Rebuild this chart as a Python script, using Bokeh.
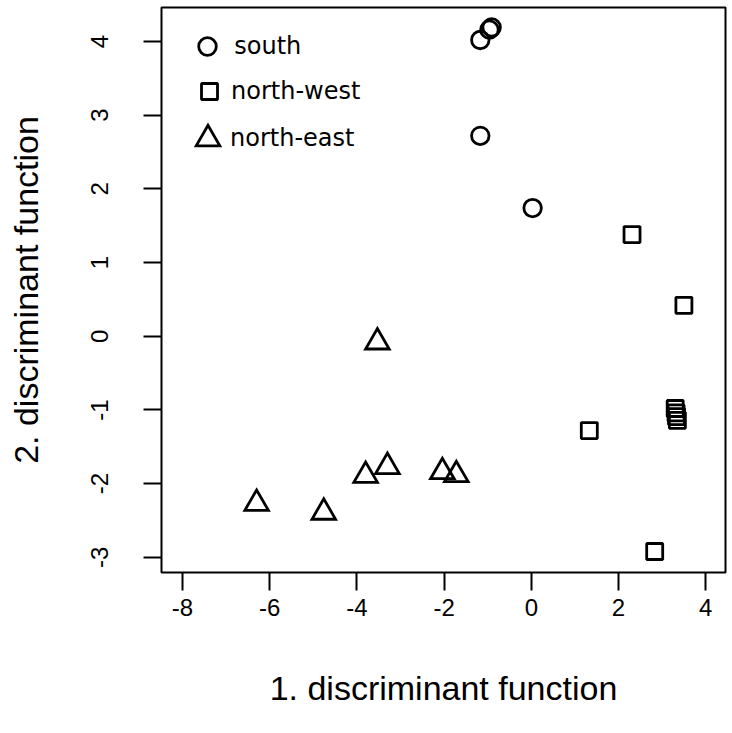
from bokeh.plotting import figure
from bokeh.models import Range1d, FixedTicker, Legend, LegendItem, CustomJSTickFormatter
from bokeh.embed import file_html
from bokeh.resources import INLINE

# --- data ---
south_x = [-1.17, -0.96, -0.91, -1.17, 0.03]
south_y = [4.02, 4.16, 4.19, 2.72, 1.74]

nw_x = [2.31, 3.50, 3.30, 3.32, 3.33, 3.35, 1.33, 2.83]
nw_y = [1.38, 0.42, -0.98, -1.04, -1.09, -1.14, -1.28, -2.92]

ne_x = [-3.53, -3.30, -3.80, -2.04, -1.72, -6.30, -4.76]
ne_y = [-0.08, -1.77, -1.89, -1.84, -1.88, -2.27, -2.39]

x_ticks = [-8, -6, -4, -2, 0, 2, 4]
y_ticks = [-3, -2, -1, 0, 1, 2, 3, 4]

group_labels = ["south", "north-west", "north-east"]
x_title = "1. discriminant function"
y_title = "2. discriminant function"

p = figure(width=732, height=733, output_backend="svg", toolbar_location=None,
           x_range=Range1d(-8.482, 4.454), y_range=Range1d(-3.205, 4.461),
           min_border_left=161, min_border_right=7, min_border_top=7,
           min_border_bottom=161)
p.grid.visible = False
p.background_fill_color = "white"
p.border_fill_color = "white"
p.outline_line_color = "black"
p.outline_line_width = 2

lw = 2.8
r1 = p.scatter(south_x, south_y, marker="circle", size=17.5, fill_color=None,
               line_color="black", line_width=lw)
r2 = p.scatter(nw_x, nw_y, marker="square", size=16, fill_color=None,
               line_color="black", line_width=lw)
r3 = p.scatter(ne_x, ne_y, marker="triangle", size=23.6, fill_color=None,
               line_color="black", line_width=lw, line_join="miter")
# invisible empty renderer: carries the "north-east" legend text only
r3_text = p.scatter(x=[], y=[], marker="triangle", fill_alpha=0, line_alpha=0)

fmt = CustomJSTickFormatter(code="return String(tick);")
for ax, ticks in ((p.xaxis[0], x_ticks), (p.yaxis[0], y_ticks)):
    ax.ticker = FixedTicker(ticks=ticks)
    ax.formatter = fmt
    ax.axis_line_color = None
    ax.major_tick_out = 18
    ax.major_tick_in = 0
    ax.major_tick_line_width = 2
    ax.major_tick_line_color = "black"
    ax.minor_tick_line_color = None
    ax.major_label_text_font = "Liberation Sans"
    ax.major_label_text_font_size = "24px"
    ax.major_label_text_color = "black"
    ax.axis_label_text_font = "Liberation Sans"
    ax.axis_label_text_font_size = "34px"
    ax.axis_label_text_font_style = "normal"
    ax.axis_label_text_color = "black"

p.xaxis.axis_label = x_title
p.yaxis.axis_label = y_title
p.xaxis.major_label_standoff = 8
p.xaxis.axis_label_standoff = 50
p.yaxis.major_label_orientation = "vertical"
p.yaxis.major_label_standoff = 35
p.yaxis.axis_label_standoff = 44

# legends: one per group so each glyph keeps its own size
leg_specs = [
    (group_labels[0], r1, 44, 44, (24.3, 504.3), 5),
    (group_labels[1], r2, 40, 40, (28.0, 461.3), 2),
    ("", r3, 59, 59, (16.8, 404.2), 0),
    (group_labels[2], r3_text, 20, 59, (49.0, 404.2), 0),
]
for label, rend, gw, gh, loc, stand in leg_specs:
    leg = Legend(items=[LegendItem(label=label, renderers=[rend])],
                 location=loc, glyph_width=gw, glyph_height=gh,
                 padding=0, margin=0, spacing=0,
                 border_line_color=None, background_fill_alpha=0,
                 label_text_font="DejaVu Sans", label_text_font_size="24px",
                 label_text_color="black", label_standoff=stand)
    p.add_layout(leg)

open("out.html", "w").write(file_html(p, INLINE))
